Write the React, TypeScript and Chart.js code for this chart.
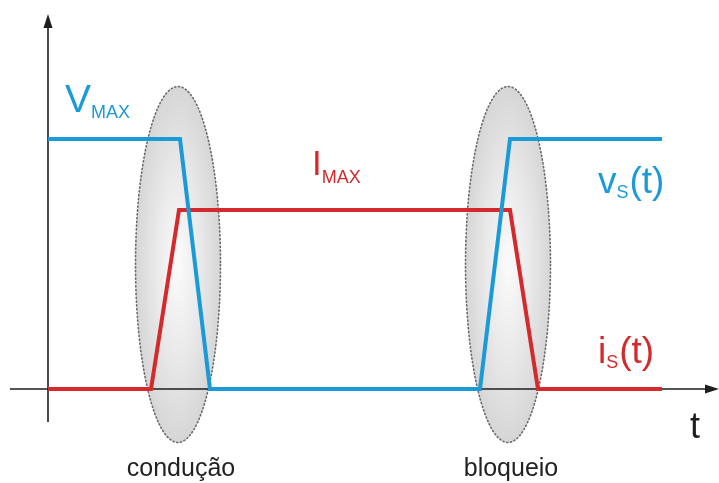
import React, { useEffect, useRef } from "react";
import { Chart, registerables } from "chart.js";

Chart.register(...registerables);

// time breakpoints (arbitrary units) and normalized amplitudes
const vTimes = [0, 13.2, 16.2, 43.2, 46.2, 61.4];
const vValues = [1, 1, 0, 0, 1, 1];
const iTimes = [0, 10.3, 13.1, 46.2, 49.0, 61.4];
const iValues = [0, 0, 0.716, 0.716, 0, 0];

// switching regions (centre time) and their labels
const regionCenters = [13.0, 46.0];
const regionLabels = ["condução", "bloqueio"];

const BLUE = "#1b9ad8";
const RED = "#d42a2c";
const FONT = "'Liberation Sans', Arial, Helvetica, sans-serif";

const overlay = {
  id: "overlay",
  beforeDatasetsDraw(chart: any) {
    const { ctx, scales } = chart;
    const xs = scales.x;
    const ys = scales.y;
    const x0 = xs.getPixelForValue(0);
    const y0 = ys.getPixelForValue(0);

    // ellipses
    const rx = xs.getPixelForValue(4.25) - x0;
    const cyv = 0.498;
    const ry = ys.getPixelForValue(0) - ys.getPixelForValue(0.712);
    regionCenters.forEach((c) => {
      const cx = xs.getPixelForValue(c);
      const cy = ys.getPixelForValue(cyv);
      ctx.save();
      ctx.translate(cx, cy);
      ctx.scale(1, ry / rx);
      const g = ctx.createRadialGradient(0, 0, 0, 0, 0, rx);
      g.addColorStop(0, "#fbfbfb");
      g.addColorStop(0.55, "#e8e8e8");
      g.addColorStop(1, "#d6d6d6");
      ctx.fillStyle = g;
      ctx.beginPath();
      ctx.arc(0, 0, rx, 0, Math.PI * 2);
      ctx.fill();
      ctx.restore();
      ctx.save();
      ctx.beginPath();
      ctx.ellipse(cx, cy, rx, ry, 0, 0, Math.PI * 2);
      ctx.setLineDash([1.2, 2.6]);
      ctx.lineCap = "round";
      ctx.lineWidth = 1.6;
      ctx.strokeStyle = "#6a6a6a";
      ctx.stroke();
      ctx.restore();
    });

    // axes
    ctx.save();
    ctx.strokeStyle = "#1e1e1e";
    ctx.fillStyle = "#1e1e1e";
    ctx.lineWidth = 1.6;
    ctx.beginPath();
    ctx.moveTo(x0, 422);
    ctx.lineTo(x0, 24);
    ctx.moveTo(10, y0);
    ctx.lineTo(710, y0);
    ctx.stroke();
    ctx.beginPath();
    ctx.moveTo(x0, 14);
    ctx.lineTo(x0 - 4.5, 28);
    ctx.lineTo(x0 + 4.5, 28);
    ctx.closePath();
    ctx.fill();
    ctx.beginPath();
    ctx.moveTo(719, y0);
    ctx.lineTo(705, y0 - 4.5);
    ctx.lineTo(705, y0 + 4.5);
    ctx.closePath();
    ctx.fill();
    ctx.restore();
  },
  afterDraw(chart: any) {
    const { ctx, scales } = chart;
    const xs = scales.x;
    ctx.save();
    ctx.textAlign = "left";
    ctx.textBaseline = "alphabetic";

    const sub = (
      main: string,
      s: string,
      tail: string,
      x: number,
      y: number,
      size: number,
      subSize: number,
      drop: number,
      color: string
    ) => {
      ctx.fillStyle = color;
      ctx.font = `${size}px ${FONT}`;
      ctx.fillText(main, x, y);
      let cx = x + ctx.measureText(main).width;
      ctx.font = `${subSize}px ${FONT}`;
      ctx.fillText(s, cx, y + drop);
      cx += ctx.measureText(s).width + 1;
      if (tail) {
        ctx.font = `${size}px ${FONT}`;
        ctx.fillText(tail, cx, y);
      }
    };

    sub("V", "MAX", "", 65, 112, 39, 18, 6, BLUE);
    sub("I", "MAX", "", 312, 175, 35, 18, 8, RED);
    sub("v", "S", "(t)", 598, 193, 37, 18, 5, BLUE);
    sub("i", "S", "(t)", 598, 363, 37, 18, 5, RED);

    ctx.fillStyle = "#1e1e1e";
    ctx.font = `36px ${FONT}`;
    ctx.fillText("t", 690, 438);

    ctx.font = `25px ${FONT}`;
    ctx.textAlign = "center";
    ctx.fillStyle = "#222222";
    regionCenters.forEach((c, k) => {
      ctx.fillText(regionLabels[k], xs.getPixelForValue(c) + 3, 476);
    });
    ctx.restore();
  },
};

export default function App() {
  const ref = useRef<HTMLCanvasElement | null>(null);
  useEffect(() => {
    if (!ref.current) return;
    const chart = new Chart(ref.current, {
      type: "line",
      data: {
        datasets: [
          {
            label: "vs(t)",
            data: vTimes.map((t, k) => ({ x: t, y: vValues[k] })),
            borderColor: BLUE,
            borderWidth: 4,
            pointRadius: 0,
            fill: false,
            tension: 0,
            borderJoinStyle: "miter",
          },
          {
            label: "is(t)",
            data: iTimes.map((t, k) => ({ x: t, y: iValues[k] })),
            borderColor: RED,
            borderWidth: 4,
            pointRadius: 0,
            fill: false,
            tension: 0,
            borderJoinStyle: "miter",
          },
        ],
      },
      options: {
        animation: false,
        responsive: false,
        layout: { padding: 0 },
        plugins: {
          legend: { display: false },
          tooltip: { enabled: false },
        },
        scales: {
          x: { type: "linear", display: false, min: -4.8, max: 67.1 },
          y: { type: "linear", display: false, min: -0.376, max: 1.556 },
        },
      },
      plugins: [overlay],
    });
    return () => chart.destroy();
  }, []);
  return (
    <div style={{ position: "absolute", left: 0, top: 0, width: 719, height: 483, background: "#fff" }}>
      <canvas ref={ref} width={719} height={483} style={{ display: "block" }} />
    </div>
  );
}
